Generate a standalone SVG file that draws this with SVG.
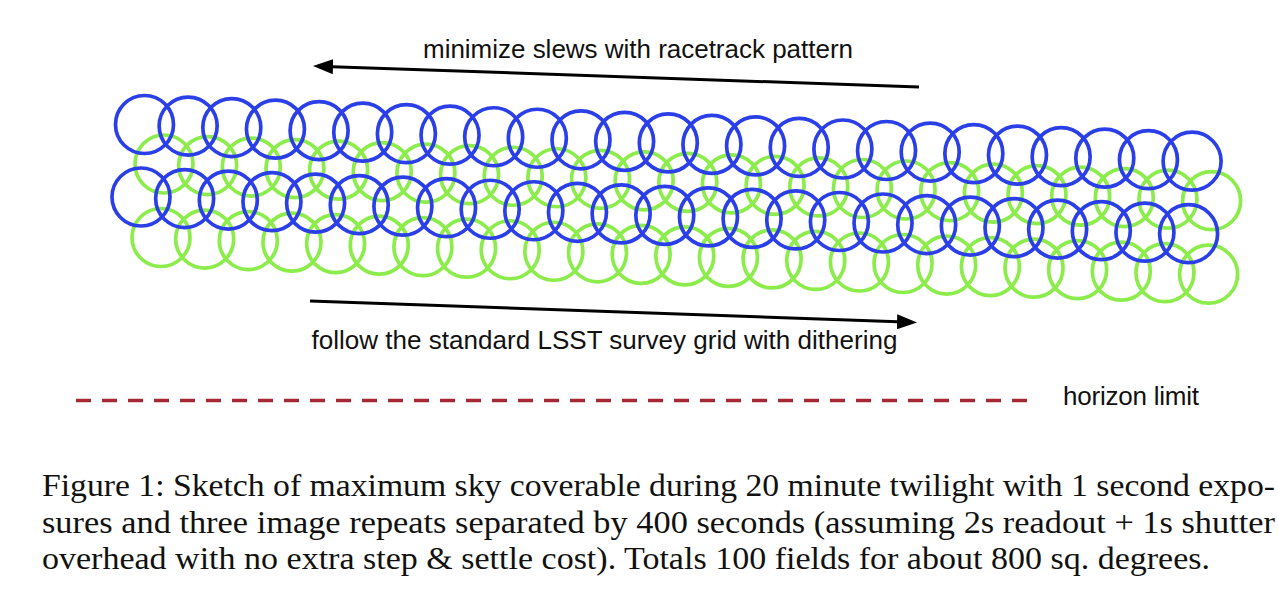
<svg xmlns="http://www.w3.org/2000/svg" width="1278" height="592" viewBox="0 0 1278 592">
<style>
.b circle{fill:none;stroke:#2b3fe8;stroke-width:3.7}
.g circle{fill:none;stroke:#8cec4c;stroke-width:3.7}
.lbl{font-family:"Liberation Sans",Arial,sans-serif;font-size:26px;fill:#111}
.cap{font-family:"Liberation Serif","Times New Roman",serif;font-size:32px;fill:#111}
.arr{stroke:#000;stroke-width:3;fill:none}
</style>
<defs>
<marker id="ah" viewBox="0 0 20 15" refX="1" refY="7.5" markerWidth="20" markerHeight="15" markerUnits="userSpaceOnUse" orient="auto">
<path d="M0,0 L20,7.5 L0,15 Z" fill="#000"/>
</marker>
</defs>
<rect width="1278" height="592" fill="#fff"/>
<g id="green-row-1" class="g" transform="translate(164,164)">
<circle cx="0" cy="0" r="29"/><circle cx="43.65" cy="1.53" r="29"/><circle cx="87.3" cy="3.06" r="29"/><circle cx="130.95" cy="4.59" r="29"/><circle cx="174.6" cy="6.12" r="29"/><circle cx="218.25" cy="7.65" r="29"/><circle cx="261.9" cy="9.18" r="29"/><circle cx="305.55" cy="10.71" r="29"/><circle cx="349.2" cy="12.24" r="29"/><circle cx="392.85" cy="13.77" r="29"/><circle cx="436.5" cy="15.3" r="29"/><circle cx="480.15" cy="16.83" r="29"/><circle cx="523.8" cy="18.36" r="29"/><circle cx="567.45" cy="19.89" r="29"/><circle cx="611.1" cy="21.42" r="29"/><circle cx="654.75" cy="22.95" r="29"/><circle cx="698.4" cy="24.48" r="29"/><circle cx="742.05" cy="26.01" r="29"/><circle cx="785.7" cy="27.54" r="29"/><circle cx="829.35" cy="29.07" r="29"/><circle cx="873" cy="30.6" r="29"/><circle cx="916.65" cy="32.13" r="29"/><circle cx="960.3" cy="33.66" r="29"/><circle cx="1003.95" cy="35.19" r="29"/><circle cx="1047.6" cy="36.72" r="29"/>
</g>
<g id="green-row-2" class="g" transform="translate(161,237.5)">
<circle cx="0" cy="0" r="29"/><circle cx="43.65" cy="1.53" r="29"/><circle cx="87.3" cy="3.06" r="29"/><circle cx="130.95" cy="4.59" r="29"/><circle cx="174.6" cy="6.12" r="29"/><circle cx="218.25" cy="7.65" r="29"/><circle cx="261.9" cy="9.18" r="29"/><circle cx="305.55" cy="10.71" r="29"/><circle cx="349.2" cy="12.24" r="29"/><circle cx="392.85" cy="13.77" r="29"/><circle cx="436.5" cy="15.3" r="29"/><circle cx="480.15" cy="16.83" r="29"/><circle cx="523.8" cy="18.36" r="29"/><circle cx="567.45" cy="19.89" r="29"/><circle cx="611.1" cy="21.42" r="29"/><circle cx="654.75" cy="22.95" r="29"/><circle cx="698.4" cy="24.48" r="29"/><circle cx="742.05" cy="26.01" r="29"/><circle cx="785.7" cy="27.54" r="29"/><circle cx="829.35" cy="29.07" r="29"/><circle cx="873" cy="30.6" r="29"/><circle cx="916.65" cy="32.13" r="29"/><circle cx="960.3" cy="33.66" r="29"/><circle cx="1003.95" cy="35.19" r="29"/><circle cx="1047.6" cy="36.72" r="29"/>
</g>
<g id="blue-row-1" class="b" transform="translate(144.5,124.5)">
<circle cx="0" cy="0" r="29"/><circle cx="43.65" cy="1.53" r="29"/><circle cx="87.3" cy="3.06" r="29"/><circle cx="130.95" cy="4.59" r="29"/><circle cx="174.6" cy="6.12" r="29"/><circle cx="218.25" cy="7.65" r="29"/><circle cx="261.9" cy="9.18" r="29"/><circle cx="305.55" cy="10.71" r="29"/><circle cx="349.2" cy="12.24" r="29"/><circle cx="392.85" cy="13.77" r="29"/><circle cx="436.5" cy="15.3" r="29"/><circle cx="480.15" cy="16.83" r="29"/><circle cx="523.8" cy="18.36" r="29"/><circle cx="567.45" cy="19.89" r="29"/><circle cx="611.1" cy="21.42" r="29"/><circle cx="654.75" cy="22.95" r="29"/><circle cx="698.4" cy="24.48" r="29"/><circle cx="742.05" cy="26.01" r="29"/><circle cx="785.7" cy="27.54" r="29"/><circle cx="829.35" cy="29.07" r="29"/><circle cx="873" cy="30.6" r="29"/><circle cx="916.65" cy="32.13" r="29"/><circle cx="960.3" cy="33.66" r="29"/><circle cx="1003.95" cy="35.19" r="29"/><circle cx="1047.6" cy="36.72" r="29"/>
</g>
<g id="blue-row-2" class="b" transform="translate(141,197)">
<circle cx="0" cy="0" r="29"/><circle cx="43.65" cy="1.53" r="29"/><circle cx="87.3" cy="3.06" r="29"/><circle cx="130.95" cy="4.59" r="29"/><circle cx="174.6" cy="6.12" r="29"/><circle cx="218.25" cy="7.65" r="29"/><circle cx="261.9" cy="9.18" r="29"/><circle cx="305.55" cy="10.71" r="29"/><circle cx="349.2" cy="12.24" r="29"/><circle cx="392.85" cy="13.77" r="29"/><circle cx="436.5" cy="15.3" r="29"/><circle cx="480.15" cy="16.83" r="29"/><circle cx="523.8" cy="18.36" r="29"/><circle cx="567.45" cy="19.89" r="29"/><circle cx="611.1" cy="21.42" r="29"/><circle cx="654.75" cy="22.95" r="29"/><circle cx="698.4" cy="24.48" r="29"/><circle cx="742.05" cy="26.01" r="29"/><circle cx="785.7" cy="27.54" r="29"/><circle cx="829.35" cy="29.07" r="29"/><circle cx="873" cy="30.6" r="29"/><circle cx="916.65" cy="32.13" r="29"/><circle cx="960.3" cy="33.66" r="29"/><circle cx="1003.95" cy="35.19" r="29"/><circle cx="1047.6" cy="36.72" r="29"/>
</g>
<g id="connectors">
<line class="arr" x1="919" y1="87" x2="332" y2="66.7" marker-end="url(#ah)"/>
<line class="arr" x1="310" y1="301" x2="898" y2="321.8" marker-end="url(#ah)"/>
<line x1="76" y1="400.5" x2="1027" y2="400.5" stroke="#a52834" stroke-width="3.4" stroke-dasharray="15 11"/>
</g>
<g id="labels">
<text class="lbl" x="423" y="58" textLength="430">minimize slews with racetrack pattern</text>
<text class="lbl" x="311.5" y="349" textLength="586">follow the standard LSST survey grid with dithering</text>
<text class="lbl" x="1063" y="405" textLength="136">horizon limit</text>
</g>
<g id="caption">
<text class="cap" x="42" y="496" textLength="1233" lengthAdjust="spacingAndGlyphs">Figure 1: Sketch of maximum sky coverable during 20 minute twilight with 1 second expo-</text>
<text class="cap" x="42" y="532.5" textLength="1233" lengthAdjust="spacingAndGlyphs">sures and three image repeats separated by 400 seconds (assuming 2s readout + 1s shutter</text>
<text class="cap" x="42" y="569" textLength="1168" lengthAdjust="spacingAndGlyphs">overhead with no extra step &amp; settle cost). Totals 100 fields for about 800 sq. degrees.</text>
</g>
</svg>
